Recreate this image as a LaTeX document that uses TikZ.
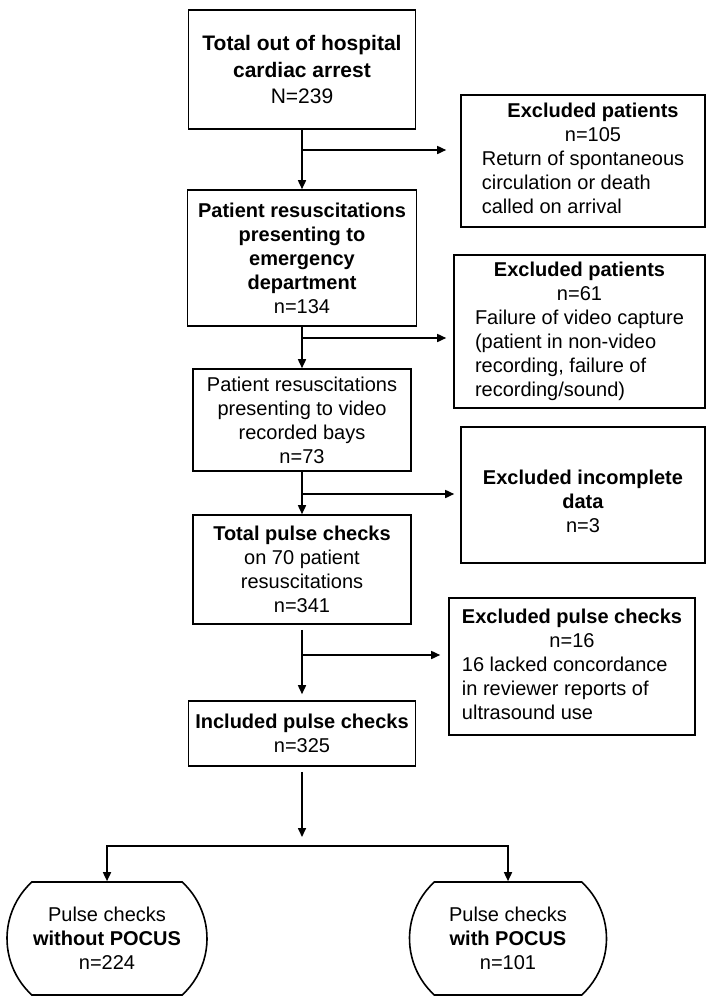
\documentclass[tikz,border=0pt]{standalone}
\usepackage{fontspec}
\setmainfont{Liberation Sans}
\usetikzlibrary{arrows.meta,shapes.misc}
\newcommand{\mcline}[1]{\multicolumn{1}{@{}c@{}}{#1}}

\begin{document}
\begin{tikzpicture}[x=1pt,y=-1pt,
    >={Triangle[length=9pt,width=8pt]},
    every node/.style={font=\fontsize{20}{24}\selectfont,inner sep=0pt},
    mainbox/.style={draw,line width=1.6pt,align=center},
    endbox/.style={draw,line width=1.6pt,align=center,rounded rectangle,rounded rectangle arc length=95},
    flow/.style={->,line width=1.6pt}]
\useasboundingbox (0,0) rectangle (707,996);

\node[mainbox,minimum width=227pt,minimum height=119pt,font=\fontsize{21}{26.5}\selectfont] (total) at (302,69.5) {\textbf{Total out of hospital}\\\textbf{cardiac arrest}\\N=239};
\node[mainbox,minimum width=229pt,minimum height=136pt] (resus) at (302,258) {\textbf{Patient resuscitations}\\\textbf{presenting to}\\\textbf{emergency}\\\textbf{department}\\n=134};
\node[mainbox,minimum width=218pt,minimum height=102pt] (video) at (302,420) {Patient resuscitations\\presenting to video\\recorded bays\\n=73};
\node[mainbox,minimum width=218pt,minimum height=109pt] (pulse) at (302,569.5) {\textbf{Total pulse checks}\\on 70 patient\\resuscitations\\n=341};
\node[mainbox,minimum width=227pt,minimum height=65pt] (incl) at (302,733.5) {\textbf{Included pulse checks}\\n=325};

% excluded boxes on the right
\node[mainbox,minimum width=244pt,minimum height=132pt] (exclA) at (583,161) {\begin{tabular}{@{}l@{}}\mcline{\hspace{20pt}\textbf{Excluded patients}}\\\mcline{\hspace{20pt}n=105}\\Return of spontaneous\\circulation or death\\called on arrival\end{tabular}};
\node[mainbox,minimum width=251pt,minimum height=153pt] (exclB) at (579.5,331.5) {\begin{tabular}{@{}l@{}}\mcline{\textbf{Excluded patients}}\\\mcline{n=61}\\Failure of video capture\\(patient in non-video\\recording, failure of\\recording/sound)\end{tabular}};
\node[mainbox,minimum width=244pt,minimum height=136pt] (exclC) at (583,495) {\rule{0pt}{27pt}\textbf{Excluded incomplete}\\\textbf{data}\\n=3};
\node[mainbox,minimum width=246pt,minimum height=137pt] (exclD) at (572,666.5) {\begin{tabular}{@{}l@{}}\mcline{\textbf{Excluded pulse checks}}\\\mcline{n=16}\\16 lacked concordance\\in reviewer reports of\\ultrasound use\end{tabular}};

% the two groups
\node[endbox,minimum width=200pt,minimum height=113pt] (nopocus) at (107,938.5) {Pulse checks\\\textbf{without POCUS}\\n=224};
\node[endbox,minimum width=197pt,minimum height=113pt] (pocus) at (508,938.5) {Pulse checks\\\textbf{with POCUS}\\n=101};

\coordinate (jA) at (302,150);
\coordinate (jB) at (302,338);
\coordinate (jC) at (302,494);
\coordinate (jD) at (302,655);
\coordinate (split) at (302,846);

\draw[flow] (total) -- (resus);
\draw[flow] (resus) -- (video);
\draw[flow] (video) -- (pulse);
\draw[flow,shorten <=5pt,shorten >=6pt] (pulse) -- (incl);
\draw[flow,shorten <=5pt,shorten >=9pt] (incl) -- (split);

\draw[flow,shorten >=14pt] (jA) -- (jA -| exclA.west);
\draw[flow,shorten >=7pt] (jB) -- (jB -| exclB.west);
\draw[flow,shorten >=6pt] (jC) -- (jC -| exclC.west);
\draw[flow,shorten >=8pt] (jD) -- (jD -| exclD.west);

\draw[flow] (split) -| (nopocus);
\draw[flow] (split) -| (pocus);
\end{tikzpicture}
\end{document}
